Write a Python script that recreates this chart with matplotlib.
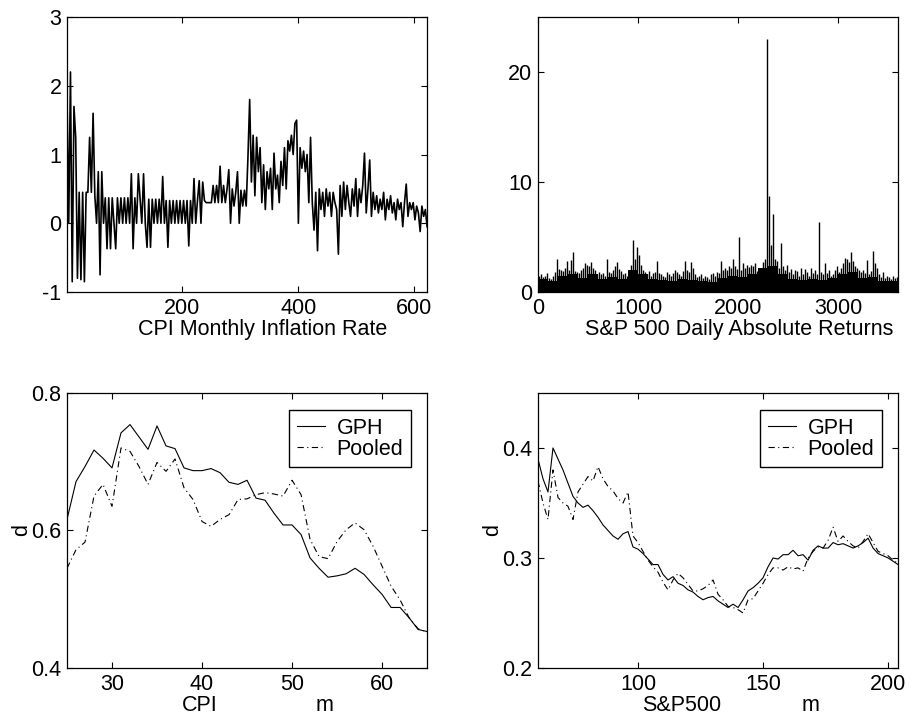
import matplotlib
matplotlib.use("Agg")
import matplotlib.pyplot as plt
import numpy as np

plt.rcParams['font.family'] = ['Liberation Sans', 'DejaVu Sans']
plt.rcParams['font.size'] = 15.5
plt.rcParams['lines.scale_dashes'] = False
plt.rcParams['axes.unicode_minus'] = False

# CPI monthly inflation rate, read every 3rd month (1, 4, ..., 622)
cpi_rate = [
    1.85, 0.0, 2.2, -0.85, 1.7, 1.25, -0.8, 0.45, -0.82, 0.45,
    -0.85, 0.45, 0.45, 1.25, 0.45, 1.6, 0.4, 0.0, 0.75, -0.75,
    # months 61-238
    0.75, 0.0, 0.37, -0.37, 0.37, -0.37, 0.37, 0.0, -0.37, 0.37,
    0.0, 0.37, 0.0, 0.37, 0.0, 0.37, 0.0, 0.72, -0.37, 0.37,
    0.0, 0.72, 0.35, 0.0, 0.72, 0.0, -0.35, 0.35, -0.35, 0.35,
    0.0, 0.35, 0.0, 0.35, 0.0, 0.68, 0.0, 0.33, -0.35, 0.33,
    0.0, 0.33, 0.0, 0.33, 0.0, 0.33, 0.0, 0.33, 0.0, 0.33,
    -0.33, 0.33, 0.0, 0.65, 0.0, 0.33, 0.62, 0.0, 0.6, 0.33,
    # months 241-310
    0.3, 0.3, 0.3, 0.3, 0.55, 0.3, 0.55, 0.3, 0.83, 0.3,
    0.55, 0.3, 0.5, 0.78, 0.0, 0.5, 0.25, 0.45, 0.75, 0.0,
    0.48, 0.25, 0.48, 0.25,
    # months 313-430
    0.95, 1.8, 0.6, 1.28, 0.4, 1.25, 0.75, 1.1, 0.3, 0.85,
    0.2, 0.75, 0.5, 0.8, 0.2, 1.02, 0.5, 0.7, 0.3, 0.9,
    0.55, 1.1, 0.5, 1.2, 1.05, 1.28, 1.0, 1.45, 1.5, 0.0,
    1.1, 0.8, 1.05, 0.75, 1.0, 0.3, 1.25, 0.3, -0.1, 0.45,
    # months 433-622
    -0.4, 0.5, 0.2, 0.45, 0.1, 0.5, 0.25, 0.45, 0.1, 0.45,
    0.3, 0.2, -0.45, 0.55, 0.1, 0.6, 0.2, 0.55, 0.3, 0.1,
    0.5, 0.25, 0.65, 0.1, 0.5, 0.3, 0.55, 1.02, 0.15, 0.5,
    0.92, 0.1, 0.45, 0.2, 0.4, 0.15, 0.35, 0.2, 0.45, 0.05,
    0.35, 0.2, 0.4, 0.15, 0.3, 0.05, 0.35, 0.2, 0.3, -0.05,
    0.3, 0.57, 0.1, 0.3, 0.2, 0.3, 0.05, 0.25, 0.15, -0.12,
    0.25, 0.1, 0.2, -0.05,
]
cpi_month = np.arange(len(cpi_rate)) * 3 + 1

# S&P 500 daily absolute returns: largest value in each 20-day block
sp_abs = [
    1.5, 1.6, 1.4, 1.5, 1.7, 1.3, 1.2, 1.5, 1.8, 3.0,
    2.1, 2.0, 1.9, 2.2, 2.8, 2.0, 2.9, 3.6, 1.9, 1.8,
    1.7, 2.0, 2.2, 2.6, 2.5, 2.4, 2.7, 2.2, 2.0, 1.6,
    1.8, 1.6, 1.7, 1.5, 3.0, 1.8, 1.7, 2.0, 2.4, 2.7,
    2.1, 1.9, 1.6, 1.7, 1.5, 2.0, 2.5, 4.7, 3.0, 4.1,
    3.4, 2.5, 2.0, 1.8, 1.6, 1.9, 1.5, 1.7, 1.8, 2.8,
    1.7, 1.6, 1.5, 1.4, 1.8, 1.6, 1.5, 1.7, 2.0, 1.8,
    1.6, 1.5, 1.9, 2.8, 2.0, 1.8, 2.7, 2.2, 1.6, 1.4,
    1.5, 1.6, 1.3, 1.5, 1.4, 1.2, 1.6, 1.7, 1.5, 1.8,
    1.7, 2.8, 2.0, 2.2, 2.0, 2.4, 2.2, 3.0, 2.4, 2.1,
    5.0, 2.0, 2.6, 2.2, 2.5, 2.3, 2.5, 2.4, 2.6, 1.9,
    1.5, 1.6, 2.7, 3.0, 23.0, 8.7, 4.3, 7.1, 3.0, 2.8,
    2.2, 4.5, 2.4, 2.0, 2.5, 1.8, 2.1, 1.6, 2.0, 1.9,
    1.5, 2.2, 1.6, 2.1, 1.8, 1.5, 2.2, 1.7, 2.0, 1.6,
    6.4, 1.8, 1.6, 2.6, 1.7, 2.0, 1.5, 1.6, 2.0, 2.4,
    1.8, 2.2, 2.6, 3.1, 3.0, 2.7, 3.6, 2.8, 2.4, 2.2,
    2.0, 1.8, 2.0, 1.7, 2.9, 1.6, 1.9, 3.7, 2.6, 2.2,
    1.6, 1.4, 1.8, 1.3, 1.5, 1.4, 1.2, 1.5, 1.3, 1.4,
]
sp_day = np.arange(len(sp_abs)) * 20

# S&P 500: level of the dense band in each 100-day block
sp_band = [
    1.2, 1.0, 1.5, 1.6, 1.3, 1.6, 1.2, 1.4, 1.2, 2.0,
    1.6, 1.2, 1.1, 1.0, 1.2, 1.1, 1.0, 0.9, 1.3, 1.5,
    1.4, 1.6, 2.2, 2.4, 1.6, 1.2, 1.1, 1.2, 1.1, 1.3,
    1.6, 1.8, 1.3, 1.4, 1.0, 1.0,
]
sp_band_day = np.arange(len(sp_band) + 1) * 100

# d estimates for CPI, m = 25..65
cpi_m = list(range(25, 66))
cpi_gph = [
    0.616, 0.671, 0.693, 0.717, 0.705, 0.691, 0.742, 0.754, 0.736, 0.718,
    0.752, 0.723, 0.719, 0.691, 0.687, 0.687, 0.690, 0.684, 0.670, 0.667,
    0.673, 0.647, 0.644, 0.625, 0.608, 0.608, 0.594, 0.560, 0.545, 0.532,
    0.534, 0.537, 0.545, 0.536, 0.521, 0.507, 0.488, 0.488, 0.473, 0.456,
    0.453,
]
cpi_pooled = [
    0.545, 0.572, 0.583, 0.650, 0.667, 0.635, 0.720, 0.715, 0.693, 0.667,
    0.699, 0.686, 0.704, 0.662, 0.645, 0.613, 0.606, 0.616, 0.623, 0.645,
    0.646, 0.652, 0.655, 0.653, 0.650, 0.673, 0.652, 0.587, 0.562, 0.559,
    0.584, 0.601, 0.611, 0.601, 0.577, 0.548, 0.519, 0.499, 0.473, 0.457,
    0.452,
]

# d estimates for S&P500, m = 60..204 step 2
sp_m = list(range(60, 205, 2))
sp_gph = [
    0.390, 0.372, 0.360, 0.400, 0.390, 0.380, 0.368, 0.356, 0.350, 0.346,
    0.348, 0.343, 0.337, 0.330, 0.325, 0.320, 0.317, 0.322, 0.324, 0.310,
    0.308, 0.304, 0.299, 0.294, 0.294, 0.285, 0.280, 0.283, 0.277, 0.275,
    0.271, 0.269, 0.265, 0.262, 0.264, 0.265, 0.261, 0.258, 0.255, 0.258,
    0.255, 0.262, 0.270, 0.273, 0.277, 0.282, 0.292, 0.300, 0.299, 0.303,
    0.303, 0.307, 0.302, 0.303, 0.298, 0.307, 0.311, 0.309, 0.309, 0.314,
    0.312, 0.313, 0.311, 0.309, 0.311, 0.314, 0.318, 0.309, 0.304, 0.302,
    0.300, 0.297, 0.294,
]
sp_pooled = [
    0.370, 0.350, 0.335, 0.380, 0.355, 0.350, 0.347, 0.335, 0.360, 0.367,
    0.374, 0.370, 0.383, 0.372, 0.365, 0.361, 0.354, 0.350, 0.360, 0.320,
    0.314, 0.306, 0.298, 0.292, 0.287, 0.278, 0.271, 0.280, 0.286, 0.282,
    0.276, 0.270, 0.270, 0.272, 0.275, 0.280, 0.267, 0.262, 0.256, 0.255,
    0.253, 0.250, 0.262, 0.263, 0.270, 0.277, 0.285, 0.291, 0.291, 0.289,
    0.292, 0.290, 0.291, 0.288, 0.300, 0.306, 0.310, 0.309, 0.316, 0.328,
    0.315, 0.320, 0.315, 0.311, 0.309, 0.315, 0.322, 0.314, 0.306, 0.304,
    0.302, 0.298, 0.295,
]

dashdot = (0, (4.5, 2.5, 0.8, 2.5))

fig = plt.figure(figsize=(9.14, 7.23), dpi=100)
W, H = 0.394, 0.3804
ax1 = fig.add_axes([0.0733, 0.5961, W, H])
ax2 = fig.add_axes([0.5886, 0.5961, W, H])
ax3 = fig.add_axes([0.0733, 0.0761, W, H])
ax4 = fig.add_axes([0.5886, 0.0761, W, H])


def style(ax):
    ax.tick_params(direction='in', top=True, right=True, length=4, width=0.8, pad=4)
    for s in ax.spines.values():
        s.set_linewidth(0.9)


# top left: CPI series
ax1.plot(cpi_month, cpi_rate, color='k', lw=1.2)
ax1.set_xlim(1, 622)
ax1.set_ylim(-1, 3)
ax1.set_xticks([200, 400, 600])
ax1.set_yticks([-1, 0, 1, 2, 3])
ax1.text(0.544, -0.138, 'CPI Monthly Inflation Rate', transform=ax1.transAxes,
         ha='center', va='center')
style(ax1)

# top right: S&P 500 absolute returns
ax2.stairs(sp_band, sp_band_day, baseline=0, fill=True, color='k', lw=0)
ax2.vlines(sp_day + 10, 0, sp_abs, color='k', lw=1.0)
ax2.set_xlim(0, 3600)
ax2.set_ylim(0, 25)
ax2.set_xticks([0, 1000, 2000, 3000])
ax2.set_yticks([0, 10, 20])
ax2.text(0.56, -0.138, 'S&P 500 Daily Absolute Returns', transform=ax2.transAxes,
         ha='center', va='center')
style(ax2)

# bottom left: d for CPI
ax3.plot(cpi_m, cpi_gph, color='k', lw=0.8, label='GPH')
ax3.plot(cpi_m, cpi_pooled, color='k', lw=0.8, linestyle=dashdot, label='Pooled')
ax3.set_xlim(25, 65)
ax3.set_ylim(0.4, 0.8)
ax3.set_xticks([30, 40, 50, 60])
ax3.set_yticks([0.4, 0.6, 0.8])
ax3.set_yticklabels(['0.4', '0.6', '0.8'])
ax3.text(0.368, -0.138, 'CPI', transform=ax3.transAxes, ha='center', va='center')
ax3.text(0.716, -0.138, 'm', transform=ax3.transAxes, ha='center', va='center')
ax3.text(-0.125, 0.5, 'd', transform=ax3.transAxes, ha='center', va='center', rotation=90)
style(ax3)

# bottom right: d for S&P500
ax4.plot(sp_m, sp_gph, color='k', lw=0.8, label='GPH')
ax4.plot(sp_m, sp_pooled, color='k', lw=0.8, linestyle=dashdot, label='Pooled')
ax4.set_xlim(60, 204)
ax4.set_ylim(0.2, 0.45)
ax4.set_xticks([100, 150, 200])
ax4.set_yticks([0.2, 0.3, 0.4])
ax4.set_yticklabels(['0.2', '0.3', '0.4'])
ax4.text(0.40, -0.138, 'S&P500', transform=ax4.transAxes, ha='center', va='center')
ax4.text(0.757, -0.138, 'm', transform=ax4.transAxes, ha='center', va='center')
ax4.text(-0.125, 0.5, 'd', transform=ax4.transAxes, ha='center', va='center', rotation=90)
style(ax4)

for ax in (ax3, ax4):
    leg = ax.legend(loc='upper left', bbox_to_anchor=(0.617, 0.938), borderaxespad=0,
                    handlelength=1.3, handletextpad=0.55, labelspacing=0.0,
                    borderpad=0.35, fancybox=False, framealpha=1, edgecolor='k')
    leg.get_frame().set_linewidth(1.0)

fig.savefig('out.png', dpi=100)
